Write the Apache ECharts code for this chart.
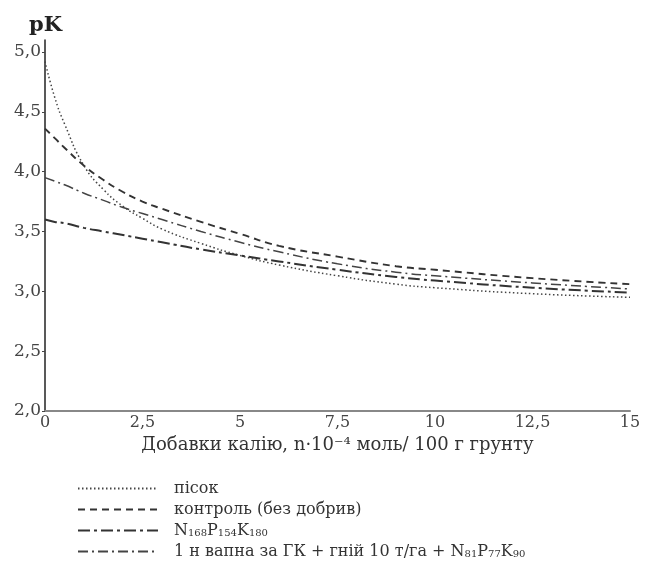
<!DOCTYPE html>
<html>
<head>
<meta charset="utf-8">
<script src="https://cdn.jsdelivr.net/npm/echarts@6/dist/echarts.min.js"></script>
<style>
  html, body { margin: 0; padding: 0; background: #fff; }
  #chart { width: 647px; height: 561px; }
</style>
</head>
<body>
<div id="chart"></div>
<script>
// x = добавки калію, n*10^-4 моль / 100 г
var xs = [0, 0.25, 0.5, 1, 1.5, 2, 2.5, 3, 4, 5, 6, 7.5, 9, 10, 12.5, 15];

var pisok    = [4.92, 4.62, 4.40, 4.05, 3.85, 3.71, 3.61, 3.52, 3.40, 3.30, 3.22, 3.13, 3.06, 3.03, 2.98, 2.95];
var kontrol  = [4.36, 4.28, 4.20, 4.05, 3.93, 3.83, 3.75, 3.69, 3.58, 3.48, 3.38, 3.29, 3.21, 3.18, 3.11, 3.06];
var npk      = [3.60, 3.58, 3.57, 3.53, 3.50, 3.47, 3.44, 3.41, 3.35, 3.30, 3.25, 3.18, 3.12, 3.09, 3.03, 2.99];
var vapno    = [3.95, 3.92, 3.89, 3.82, 3.76, 3.70, 3.65, 3.60, 3.50, 3.41, 3.33, 3.23, 3.16, 3.13, 3.07, 3.02];

var names = ['пісок', 'контроль (без добрив)', 'N168P154K180', '1 н вапна за ГК + гній 10 т/га + N81P77K90'];
// legend labels with subscripts
var legendRich = {
  'пісок': 'пісок',
  'контроль (без добрив)': 'контроль (без добрив)',
  'N168P154K180': 'N{s|168}P{s|154}K{s|180}',
  '1 н вапна за ГК + гній 10 т/га + N81P77K90': '1 н вапна за ГК + гній 10 т/га + N{s|81}P{s|77}K{s|90}'
};

function pairs(ys) {
  return xs.map(function (x, i) { return [x, ys[i]]; });
}
function comma(v) { return String(v).replace('.', ','); }

var chart = echarts.init(document.getElementById('chart'));
var serif = 'DejaVu Serif';

var option = {
  animation: false,
  backgroundColor: '#fff',
  title: {
    text: 'pK',
    left: 24, top: 10,
    textStyle: { fontFamily: serif, fontWeight: 'bold', fontSize: 21, color: '#222' }
  },
  grid: { left: 45, right: 17, top: 40, bottom: 150 },
  legend: {
    orient: 'vertical',
    left: 77, top: 480,
    padding: 0,
    itemWidth: 80, itemHeight: 10, itemGap: 4,
    data: names,
    itemStyle: { color: 'rgba(0,0,0,0)', borderWidth: 0, opacity: 0 },
    formatter: function (n) { return legendRich[n]; },
    textStyle: {
      fontFamily: serif, fontSize: 16, color: '#333', lineHeight: 17, padding: [0, 0, 0, 11],
      rich: { s: { fontFamily: serif, fontSize: 10, color: '#333', lineHeight: 11, padding: [6, 0, 0, 0] } }
    }
  },
  xAxis: {
    type: 'value',
    min: 0, max: 15, interval: 2.5,
    name: 'Добавки калію, n·10⁻⁴ моль/ 100 г грунту',
    nameLocation: 'middle', nameGap: 20,
    nameTextStyle: { fontFamily: serif, fontSize: 18, color: '#333' },
    axisLine: { lineStyle: { color: '#888', width: 2 } },
    axisTick: { show: false },
    splitLine: { show: false },
    axisLabel: { fontFamily: serif, fontSize: 16, color: '#444', margin: 4, formatter: comma }
  },
  yAxis: {
    type: 'value',
    min: 2, max: 5.1, interval: 0.5,
    axisLine: { show: true, lineStyle: { color: '#222', width: 1.5 } },
    axisTick: { show: true, length: 3, lineStyle: { color: '#444' } },
    splitLine: { show: false },
    axisLabel: {
      fontFamily: serif, fontSize: 17, color: '#444', margin: 4, showMaxLabel: false,
      formatter: function (v) { return v.toFixed(1).replace('.', ','); }
    }
  },
  series: [
    { name: names[0], type: 'line', smooth: true, symbol: 'none', data: pairs(pisok),
      lineStyle: { color: '#444', width: 1.5, type: [1.5, 2.5] } },
    { name: names[1], type: 'line', smooth: true, symbol: 'none', data: pairs(kontrol),
      lineStyle: { color: '#333', width: 1.9, type: [7, 5] } },
    { name: names[2], type: 'line', smooth: true, symbol: 'none', data: pairs(npk),
      lineStyle: { color: '#333', width: 2, type: [12, 4, 3, 4] } },
    { name: names[3], type: 'line', smooth: true, symbol: 'none', data: pairs(vapno),
      lineStyle: { color: '#444', width: 1.5, type: [10, 4, 2, 4] } }
  ]
};

chart.setOption(option);
</script>
</body>
</html>
